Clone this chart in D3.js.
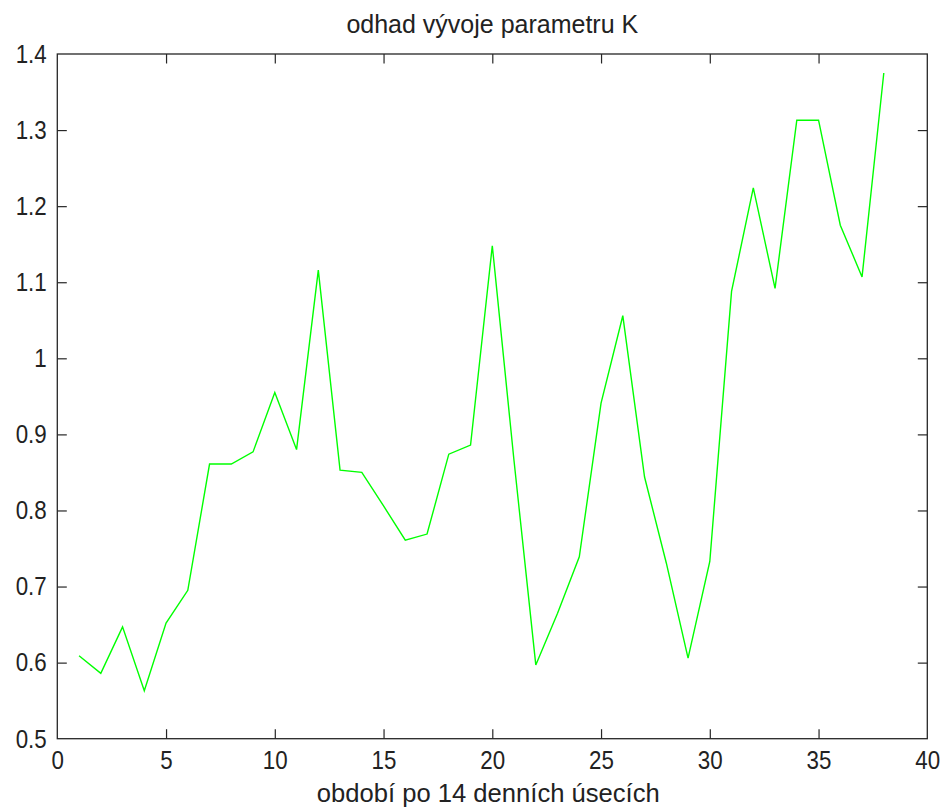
<!DOCTYPE html>
<html>
<head>
<meta charset="utf-8">
<script src="https://cdn.jsdelivr.net/npm/d3@7"></script>
<style>
  html, body { margin: 0; padding: 0; background: #fff; }
  svg { display: block; }
  text { font-family: "Liberation Sans", Arial, sans-serif; fill: #222; }
</style>
</head>
<body>
<svg id="chart" width="944" height="809"></svg>
<script>
// Period index (14-day blocks) and estimated K
const periods = d3.range(1, 39);
const kValues = [
  0.609, 0.586, 0.647, 0.563, 0.652, 0.695, 0.861, 0.861, 0.877, 0.955,
  0.880, 1.116, 0.853, 0.850, 0.806, 0.761, 0.769, 0.874, 0.886, 1.148,
  0.865, 0.597, 0.665, 0.739, 0.941, 1.056, 0.844, 0.731, 0.606, 0.733,
  1.088, 1.224, 1.092, 1.313, 1.313, 1.175, 1.107, 1.375
];
const xTicks = [0, 5, 10, 15, 20, 25, 30, 35, 40];
const yTicks = [0.5, 0.6, 0.7, 0.8, 0.9, 1.0, 1.1, 1.2, 1.3, 1.4];
const titleText = "odhad vývoje parametru K";
const xLabelText = "období po 14 denních úsecích";

const svg = d3.select("#chart");
const plotLeft = 57.3, plotRight = 927.3, plotTop = 54, plotBottom = 738.7;

const x = d3.scaleLinear().domain([0, 40]).range([plotLeft, plotRight]);
const y = d3.scaleLinear().domain([0.5, 1.4]).range([plotBottom, plotTop]);

const axisColor = "#262626";
const tick = 9.5;
const sx = 0.86; // narrow digits

// bottom axis with labels
const gB = svg.append("g").attr("transform", `translate(0,${plotBottom})`)
  .call(d3.axisBottom(x).tickValues(xTicks).tickFormat(d3.format("d"))
    .tickSize(-tick).tickPadding(12));
// top axis, ticks only
const gT = svg.append("g").attr("transform", `translate(0,${plotTop})`)
  .call(d3.axisTop(x).tickValues(xTicks).tickFormat("").tickSize(-tick));
// left axis with labels
const fmtY = v => (v === 1 ? "1" : d3.format(".1f")(v));
const gL = svg.append("g").attr("transform", `translate(${plotLeft},0)`)
  .call(d3.axisLeft(y).tickValues(yTicks).tickFormat(fmtY)
    .tickSize(-tick).tickPadding(10.6));
// right axis, ticks only
const gR = svg.append("g").attr("transform", `translate(${plotRight},0)`)
  .call(d3.axisRight(y).tickValues(yTicks).tickFormat("").tickSize(-tick));

[gB, gT, gL, gR].forEach(g => {
  g.select(".domain").remove();
  g.selectAll(".tick line").attr("stroke", axisColor).attr("stroke-width", 1.2);
  g.selectAll("text").attr("font-size", 26).attr("fill", "#222")
    .style("font-family", '"Liberation Sans", Arial, sans-serif');
});
gB.selectAll(".tick text").attr("transform", `scale(${sx},1)`);
gL.selectAll(".tick text")
  .attr("x", -10.6 / sx)
  .attr("transform", `scale(${sx},1)`);
// edge tick marks sit on the box
gB.selectAll(".tick line").filter(d => d === 0 || d === 40).remove();
gT.selectAll(".tick line").filter(d => d === 0 || d === 40).remove();
gL.selectAll(".tick line").filter(d => d === 0.5 || d === 1.4).remove();
gR.selectAll(".tick line").filter(d => d === 0.5 || d === 1.4).remove();

// axes box
svg.append("rect")
  .attr("x", plotLeft).attr("y", plotTop)
  .attr("width", plotRight - plotLeft).attr("height", plotBottom - plotTop)
  .attr("fill", "none").attr("stroke", axisColor).attr("stroke-width", 1.3);

// data line
const line = d3.line().x((d, i) => x(periods[i])).y(d => y(d));
svg.append("path")
  .datum(kValues)
  .attr("d", line)
  .attr("fill", "none")
  .attr("stroke", "#00ff00")
  .attr("stroke-width", 1.4)
  .attr("stroke-linejoin", "miter");

// title and axis label
svg.append("text")
  .attr("x", (plotLeft + plotRight) / 2).attr("y", 33.3)
  .attr("text-anchor", "middle").attr("font-size", 25)
  .text(titleText);
svg.append("text")
  .attr("x", (plotLeft + plotRight) / 2 - 4).attr("y", 801.7)
  .attr("text-anchor", "middle").attr("font-size", 25.6)
  .text(xLabelText);
</script>
</body>
</html>
